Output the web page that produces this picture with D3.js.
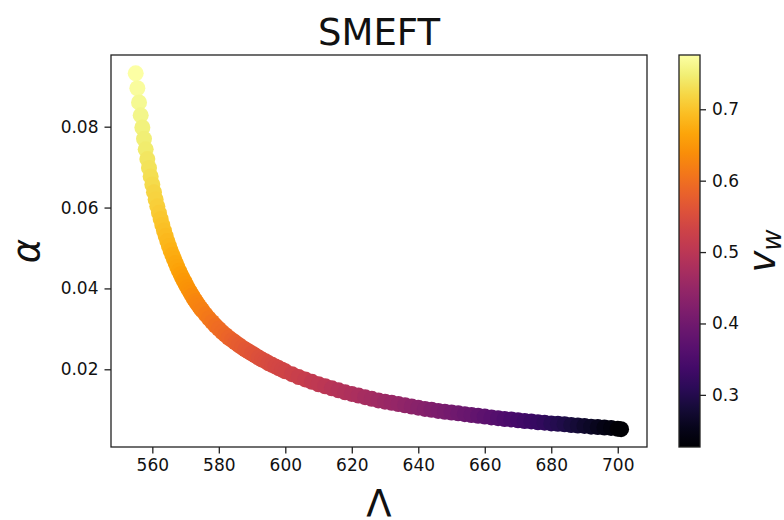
<!DOCTYPE html>
<html>
<head>
<meta charset="utf-8">
<script src="https://cdn.jsdelivr.net/npm/d3@7"></script>
<style>
  html, body { margin: 0; padding: 0; background: #fff; }
  svg { display: block; }
  text { font-family: "DejaVu Sans", sans-serif; fill: #111; }
</style>
</head>
<body>
<svg id="chart" width="784" height="520"></svg>
<script>
// ---- data ----
const lambdaVals = [
  555.0, 555.5, 556.0, 556.5, 557.0, 557.5, 558.0, 558.5, 559.0, 559.5,
  560.0, 560.5, 561.0, 561.5, 562.0, 562.5, 563.0, 563.5, 564.0, 564.5,
  565.0, 565.5, 566.0, 566.5, 567.0, 567.5, 568.0, 568.5, 569.0, 569.5,
  570.0, 570.5, 571.0, 571.5, 572.0, 572.5, 573.0, 573.5, 574.0, 574.5,
  575.0, 576, 577, 578, 579, 580, 581, 582, 583, 584,
  585, 586, 587, 588, 589, 590, 591, 592, 593, 594,
  595, 596, 597, 598, 599, 600, 602, 604, 606, 608,
  610, 612, 614, 616, 618, 620, 622, 624, 626, 628,
  630, 632, 634, 636, 638, 640, 642, 644, 646, 648,
  650, 652, 654, 656, 658, 660, 662, 664, 666, 668,
  670, 672, 674, 676, 678, 680, 682, 684, 686, 688,
  690, 692, 694, 696, 698, 700, 701
];
const alphaVals = [
  0.0932, 0.0895, 0.0860, 0.0828, 0.0798, 0.0770, 0.0744, 0.0720, 0.0698, 0.0677,
  0.0657, 0.0638, 0.0620, 0.0603, 0.0587, 0.0572, 0.0557, 0.0543, 0.0530, 0.0517,
  0.0505, 0.0494, 0.0483, 0.0473, 0.0463, 0.0453, 0.0444, 0.0435, 0.0427, 0.0419,
  0.0411, 0.0403, 0.0396, 0.0389, 0.0382, 0.0375, 0.0369, 0.0363, 0.0357, 0.0351,
  0.0346, 0.0336, 0.0326, 0.0317, 0.0308, 0.0300, 0.0292, 0.0285, 0.0278, 0.0272,
  0.0266, 0.0260, 0.0254, 0.0249, 0.0244, 0.0239, 0.0234, 0.0229, 0.0224, 0.0220,
  0.0215, 0.0211, 0.0207, 0.0203, 0.0199, 0.0195, 0.0188, 0.0181, 0.0175, 0.0169,
  0.0163, 0.0158, 0.0153, 0.0148, 0.0143, 0.0139, 0.0135, 0.0131, 0.0127, 0.0123,
  0.0120, 0.0117, 0.0114, 0.0111, 0.0108, 0.0105, 0.0102, 0.0100, 0.0097, 0.0095,
  0.0093, 0.0091, 0.0089, 0.0087, 0.0085, 0.0083, 0.0081, 0.0079, 0.0077, 0.0076,
  0.0074, 0.0072, 0.0071, 0.0069, 0.0068, 0.0066, 0.0065, 0.0064, 0.0062, 0.0061,
  0.0060, 0.0058, 0.0057, 0.0056, 0.0055, 0.0053, 0.0052
];
const vwVals = [
  0.776, 0.770, 0.765, 0.759, 0.754, 0.749, 0.744, 0.739, 0.734, 0.729,
  0.725, 0.720, 0.716, 0.712, 0.708, 0.704, 0.700, 0.696, 0.692, 0.688,
  0.684, 0.681, 0.677, 0.674, 0.670, 0.667, 0.663, 0.660, 0.657, 0.653,
  0.650, 0.647, 0.644, 0.641, 0.638, 0.635, 0.632, 0.630, 0.627, 0.624,
  0.622, 0.617, 0.612, 0.607, 0.602, 0.598, 0.594, 0.590, 0.586, 0.582,
  0.578, 0.574, 0.571, 0.567, 0.564, 0.561, 0.558, 0.555, 0.552, 0.549,
  0.546, 0.543, 0.540, 0.537, 0.535, 0.532, 0.527, 0.522, 0.517, 0.512,
  0.507, 0.502, 0.497, 0.492, 0.488, 0.483, 0.478, 0.473, 0.468, 0.463,
  0.458, 0.453, 0.448, 0.443, 0.437, 0.432, 0.427, 0.421, 0.415, 0.410,
  0.404, 0.398, 0.392, 0.386, 0.380, 0.374, 0.368, 0.361, 0.355, 0.348,
  0.342, 0.335, 0.328, 0.322, 0.315, 0.308, 0.301, 0.294, 0.287, 0.279,
  0.272, 0.264, 0.256, 0.248, 0.240, 0.231, 0.227
];
const xTicks = [560, 580, 600, 620, 640, 660, 680, 700];
const yTicks = [0.02, 0.04, 0.06, 0.08];
const cTicks = [0.3, 0.4, 0.5, 0.6, 0.7];
const titleText = "SMEFT";

// ---- layout ----
const plot = { left: 111, right: 647, top: 55, bottom: 447 };
const cbar = { left: 679, right: 700 };
const tickFont = 17;
const bigFont = 37;

const svg = d3.select("#chart");
const x = d3.scaleLinear().domain([547.57, 708.8]).range([plot.left, plot.right]);
const y = d3.scaleLinear().domain([0.00078, 0.09773]).range([plot.bottom, plot.top]);
const vMin = 0.227, vMax = 0.776;
const color = d3.scaleSequential(d3.interpolateInferno).domain([vMin, vMax]);
const cy = d3.scaleLinear().domain([vMin, vMax]).range([plot.bottom, plot.top]);

const pts = lambdaVals.map((L, i) => ({ L, a: alphaVals[i], v: vwVals[i] }));

// points
svg.append("g").selectAll("circle").data(pts).join("circle")
  .attr("cx", d => x(d.L)).attr("cy", d => y(d.a)).attr("r", 8)
  .attr("fill", d => color(d.v));

// axes
const fmt2 = d3.format(".2f");
const xAxis = svg.append("g").attr("transform", `translate(0,${plot.bottom})`)
  .call(d3.axisBottom(x).tickValues(xTicks).tickSize(6.5).tickPadding(5).tickFormat(d3.format("d")));
const yAxis = svg.append("g").attr("transform", `translate(${plot.left},0)`)
  .call(d3.axisLeft(y).tickValues(yTicks).tickSize(6.5).tickPadding(6).tickFormat(fmt2));
[xAxis, yAxis].forEach(g => {
  g.select(".domain").remove();
  g.selectAll("line").attr("stroke", "#222").attr("stroke-width", 1.3);
  g.selectAll("text").style("font-family", "DejaVu Sans").style("font-size", tickFont + "px").attr("fill", "#1a1a1a");
});

// frame
svg.append("rect").attr("x", plot.left).attr("y", plot.top)
  .attr("width", plot.right - plot.left).attr("height", plot.bottom - plot.top)
  .attr("fill", "none").attr("stroke", "#222").attr("stroke-width", 1.3);

// title
svg.append("text").attr("x", (plot.left + plot.right) / 2).attr("y", 45)
  .attr("text-anchor", "middle").style("font-size", bigFont + "px").text(titleText);

// axis labels
svg.append("text").attr("x", (plot.left + plot.right) / 2).attr("y", 516)
  .attr("text-anchor", "middle").style("font-size", bigFont + "px").text("Λ");
svg.append("text").attr("transform", `translate(38.5,${(plot.top + plot.bottom) / 2}) rotate(-90)`)
  .attr("text-anchor", "middle").style("font-size", bigFont + "px").style("font-style", "italic").text("α");

// colorbar
const defs = svg.append("defs");
const grad = defs.append("linearGradient").attr("id", "cbgrad")
  .attr("x1", 0).attr("y1", 1).attr("x2", 0).attr("y2", 0);
d3.range(0, 1.0001, 0.05).forEach(t => {
  grad.append("stop").attr("offset", t).attr("stop-color", d3.interpolateInferno(t));
});
svg.append("rect").attr("x", cbar.left).attr("y", plot.top)
  .attr("width", cbar.right - cbar.left).attr("height", plot.bottom - plot.top)
  .attr("fill", "url(#cbgrad)").attr("stroke", "#222").attr("stroke-width", 1.3);
const cAxis = svg.append("g").attr("transform", `translate(${cbar.right},0)`)
  .call(d3.axisRight(cy).tickValues(cTicks).tickSize(6).tickPadding(6).tickFormat(d3.format(".1f")));
cAxis.select(".domain").remove();
cAxis.selectAll("line").attr("stroke", "#222").attr("stroke-width", 1.3);
cAxis.selectAll("text").style("font-family", "DejaVu Sans").style("font-size", tickFont + "px").attr("fill", "#1a1a1a");

const vl = svg.append("text").attr("transform", `translate(775,${(plot.top + plot.bottom) / 2}) rotate(-90)`)
  .attr("text-anchor", "middle").style("font-size", bigFont + "px").style("font-style", "italic");
vl.append("tspan").text("v");
vl.append("tspan").attr("dy", 6).style("font-size", "26px").text("w");
</script>
</body>
</html>
